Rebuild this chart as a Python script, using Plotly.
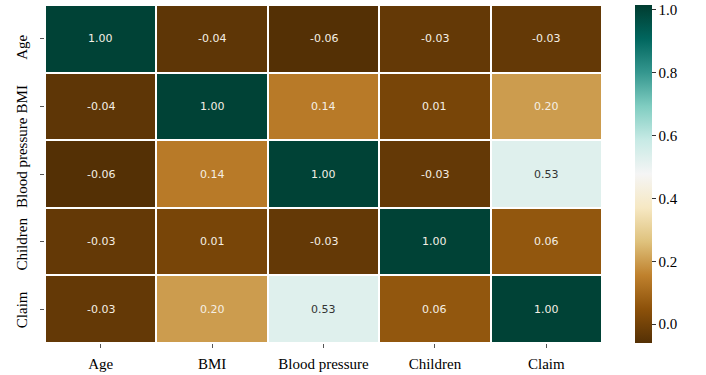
import plotly.graph_objects as go

labels = ["Age", "BMI", "Blood pressure", "Children", "Claim"]
corr = [
    [1.00, -0.04, -0.06, -0.03, -0.03],
    [-0.04, 1.00, 0.14, 0.01, 0.20],
    [-0.06, 0.14, 1.00, -0.03, 0.53],
    [-0.03, 0.01, -0.03, 1.00, 0.06],
    [-0.03, 0.20, 0.53, 0.06, 1.00],
]
cbar_ticks = [0.0, 0.2, 0.4, 0.6, 0.8, 1.0]

# small vertical nudges of the rotated y labels, as in the reference
ylabel_shift = [-9, 7, 11, -3, -1]

fig = go.Figure(go.Heatmap(
    z=corr, x=labels, y=labels,
    colorscale="BrBG", zmin=-0.06, zmax=1.015,
    xgap=2, ygap=2, hoverinfo="skip",
    colorbar=dict(
        x=1.059, xanchor="left", y=0.5, yanchor="middle", len=1.0, lenmode="fraction",
        thickness=17, outlinewidth=0, xpad=0, ypad=0,
        tickvals=cbar_ticks, ticktext=[f"{v:.1f}" for v in cbar_ticks],
        ticks="outside", ticklen=4, tickcolor="#333",
        tickfont=dict(family="Liberation Serif", size=15, color="black"),
    ),
))

annotations = []
for i, row in enumerate(corr):
    for j, v in enumerate(row):
        color = "#333333" if 0.35 < v < 0.75 else "#f5efe4"
        annotations.append(dict(
            x=labels[j], y=labels[i], text=f"{v:.2f}", showarrow=False,
            font=dict(family="DejaVu Sans", size=11, color=color),
        ))

for lab, dy in zip(labels, ylabel_shift):
    annotations.append(dict(
        xref="paper", x=0, xshift=-23, y=lab, yshift=dy, text=lab, showarrow=False,
        textangle=-90, xanchor="center", yanchor="middle",
        font=dict(family="Liberation Serif", size=15, color="black"),
    ))

fig.update_layout(
    width=706, height=375,
    margin=dict(l=45, r=104, t=5, b=32),
    paper_bgcolor="white", plot_bgcolor="white",
    annotations=annotations,
    xaxis=dict(showgrid=False, zeroline=False, ticks="outside", ticklen=4, tickcolor="#555",
               automargin=False, ticklabelstandoff=3,
               tickfont=dict(family="Liberation Serif", size=15, color="black")),
    yaxis=dict(showgrid=False, zeroline=False, autorange="reversed", ticks="outside", ticklen=4,
               tickcolor="#555", showticklabels=False, automargin=False),
)

fig.write_html("out.html", config={"displayModeBar": False},
               post_script="document.body.style.margin='0';")
